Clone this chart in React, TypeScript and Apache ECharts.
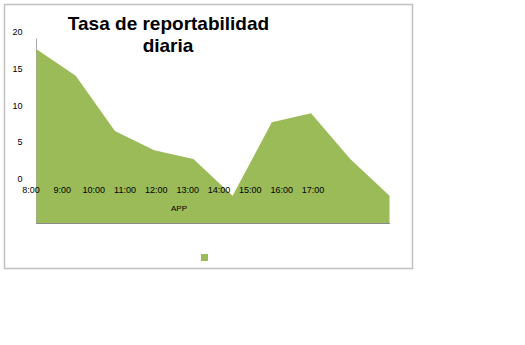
import React, { useEffect, useRef } from "react";
import * as echarts from "echarts";

const categories = ["8:00", "9:00", "10:00", "11:00", "12:00", "13:00", "14:00", "15:00", "16:00", "17:00"];
const values = [18.6, 15.0, 7.5, 4.9, 3.7, -1.3, 8.7, 9.9, 3.7, -1.3];
const seriesName = "APP";
const titleLines = ["Tasa de reportabilidad", "diaria"];
const axisTitle = "APP";
const yMin = -5;
const yMax = 20;
const yStep = 5;

export default function App() {
  const ref = useRef<HTMLDivElement>(null);
  useEffect(() => {
    if (!ref.current) return;
    const chart = echarts.init(ref.current, null, { renderer: "svg" });
    const font = "'Liberation Sans', Arial, sans-serif";
    chart.setOption({
      animation: false,
      backgroundColor: "#fff",
      textStyle: { fontFamily: font },
      legend: {
        data: [seriesName],
        left: 201,
        top: 254,
        padding: 0,
        icon: "rect",
        itemWidth: 7,
        itemHeight: 7,
        formatter: () => "",
        selectedMode: false,
      },
      graphic: [
        {
          type: "rect",
          shape: { x: 4.5, y: 4.5, width: 408, height: 264 },
          style: { fill: "none", stroke: "#c0c0c0", lineWidth: 1.5 },
          silent: true,
        },
        {
          type: "text",
          x: 168.5,
          y: 23,
          style: {
            text: titleLines[0],
            font: `bold 19px ${font}`,
            fill: "#000",
            align: "center",
            verticalAlign: "middle",
          },
        },
        {
          type: "text",
          x: 168,
          y: 45,
          style: {
            text: titleLines[1],
            font: `bold 19px ${font}`,
            fill: "#000",
            align: "center",
            verticalAlign: "middle",
          },
        },
        {
          type: "text",
          x: 179,
          y: 208,
          z: 100,
          style: {
            text: axisTitle,
            font: `8px ${font}`,
            fill: "#000",
            align: "center",
            verticalAlign: "middle",
          },
        },
      ],
      grid: [
        { left: 36.5, top: 39, width: 353, height: 184, containLabel: false },
        { left: 31, top: 100, width: 282, height: 85, containLabel: false },
        { left: 36.5, top: 32, width: 353, height: 184, containLabel: false },
      ],
      xAxis: [
        {
          type: "category",
          gridIndex: 0,
          data: categories,
          boundaryGap: false,
          axisLabel: { show: false },
          axisTick: { show: false },
          axisLine: { show: true, onZero: false, lineStyle: { color: "#8a8a8a", width: 1 } },
          splitLine: { show: false },
        },
        {
          type: "category",
          gridIndex: 1,
          data: categories,
          boundaryGap: false,
          z: 50,
          axisLine: { show: false },
          axisTick: { show: false },
          splitLine: { show: false },
          axisLabel: { interval: 0, margin: 0, fontSize: 9, color: "#000", fontFamily: font, verticalAlign: "top" },
        },
        {
          type: "category",
          gridIndex: 2,
          data: categories,
          show: false,
        },
      ],
      yAxis: [
        {
          type: "value",
          gridIndex: 0,
          min: yMin,
          max: yMax,
          interval: yStep,
          axisLine: { show: true, lineStyle: { color: "#a6a6a6", width: 1 } },
          axisTick: { show: false },
          splitLine: { show: false },
          axisLabel: { show: false },
        },
        { type: "value", gridIndex: 1, show: false, min: 0, max: 1 },
        {
          type: "value",
          gridIndex: 2,
          min: yMin,
          max: yMax,
          interval: yStep,
          z: 50,
          axisLine: { show: false },
          axisTick: { show: false },
          splitLine: { show: false },
          axisLabel: {
            margin: 14,
            fontSize: 9,
            color: "#000",
            fontFamily: font,
            formatter: (v: number) => (v < 0 ? "" : String(v)),
          },
        },
      ],
      series: [
        {
          name: seriesName,
          type: "line",
          xAxisIndex: 0,
          yAxisIndex: 0,
          data: values,
          symbol: "none",
          z: 2,
          lineStyle: { width: 0 },
          itemStyle: { color: "#9bbb59" },
          areaStyle: { color: "#9bbb59", opacity: 1, origin: "start" },
        },
      ],
    });
    return () => chart.dispose();
  }, []);
  return <div ref={ref} style={{ position: "fixed", left: 0, top: 0, width: 525, height: 345 }} />;
}
